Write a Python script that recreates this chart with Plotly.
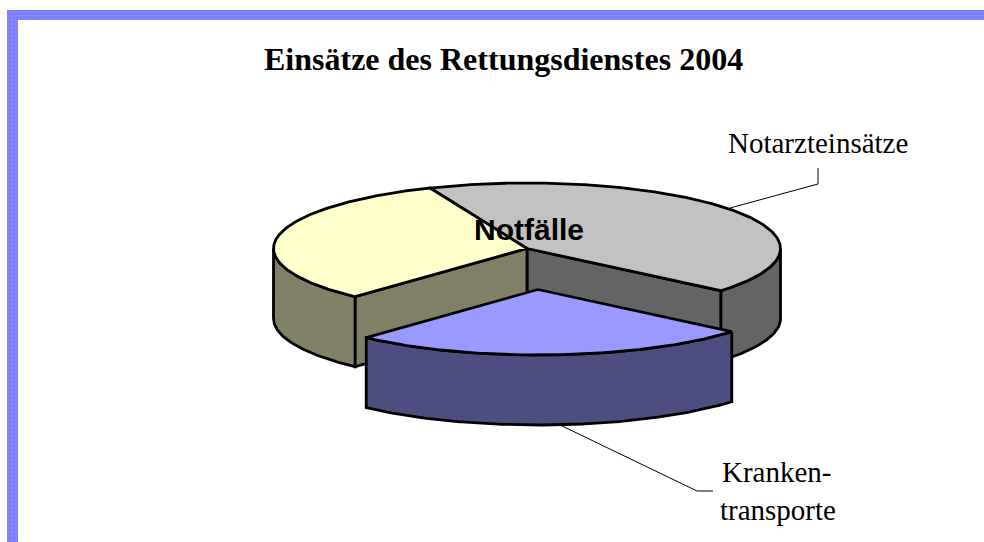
import numpy as np
import plotly.graph_objects as go

# ---- data ----
categories = ["Notarzteinsätze", "Krankentransporte", "Notfälle"]
shares = [42.4, 25.7, 31.9]
top_colors = ["#C4C4C4", "#9999FF", "#FFFFCC"]
side_colors = ["#636363", "#4D4D80", "#808066"]
title_text = "Einsätze des Rettungsdienstes 2004"

# ---- pie projection (pixel space of the 984x542 page) ----
CX, CY, RX, RY, DEPTH = 527.0, 248.5, 253.5, 65.5, 70.0
START = 112.5                      # angle of first slice edge, going clockwise
EXPLODE = {1: (11.0, 41.0)}        # slice index -> offset
LINE = dict(color="black", width=2.8)


def arc(a0, a1, ox=0.0, oy=0.0, dz=0.0):
    n = max(2, int(abs(a1 - a0) * 2))
    t = np.radians(np.linspace(a0, a1, n))
    return CX + ox + RX * np.cos(t), CY + oy + dz - RY * np.sin(t)


def poly(x, y, color, pattern=None, line=LINE):
    kw = dict(x=list(x) + [x[0]], y=list(y) + [y[0]], mode="lines", fill="toself",
              fillcolor=color, line=line, hoverinfo="skip", showlegend=False)
    if pattern:
        kw["fillpattern"] = pattern
    return go.Scatter(**kw)


def dots(bg, fg):
    return dict(shape=".", size=2, solidity=0.4, bgcolor=bg, fgcolor=fg, fillmode="replace")


def outer_wall(a0, a1, color, ox=0.0, oy=0.0, pattern=None):
    """a0 > a1, clockwise; only the front part of the rim (sin < 0)."""
    hi, lo = min(a0, 360.0), max(a1, 180.0)
    xt, yt = arc(hi, lo, ox, oy)
    xb, yb = arc(lo, hi, ox, oy, DEPTH)
    return poly(np.r_[xt, xb], np.r_[yt, yb], color, pattern)


def radial_wall(a, color, ox=0.0, oy=0.0, pattern=None):
    xe, ye = arc(a, a, ox, oy)
    px, py = CX + ox, CY + oy
    return poly([px, xe[0], xe[0], px], [py, ye[0], ye[0] + DEPTH, py + DEPTH], color, pattern)


def top(a0, a1, color, ox=0.0, oy=0.0, pattern=None):
    x, y = arc(a0, a1, ox, oy)
    return poly(np.r_[CX + ox, x], np.r_[CY + oy, y], color, pattern)


edges = START - np.cumsum([0.0] + [s / sum(shares) * 360.0 for s in shares])
fig = go.Figure()

# frame
FRAME = "#8080FF"
fpat = dict(shape=".", size=4, solidity=0.3, bgcolor="#8484FF", fgcolor="#7C7CFC", fillmode="replace")
nol = dict(color=FRAME, width=0)
fig.add_trace(poly([7, 984, 984, 7], [10, 10, 20, 20], FRAME, fpat, nol))
fig.add_trace(poly([7, 18, 18, 7], [10, 10, 542, 542], FRAME, fpat, nol))

# back slices: gray (0), yellow (2)
gray_side = dots("#6C6C6C", "#585858")
gray_top = dots("#C8C8C8", "#B8B8B8")
g0, g1 = edges[0], edges[1]
y0, y1 = edges[2] + 360.0, edges[3] + 360.0

fig.add_trace(outer_wall(360.0 + g0, 360.0 + g1, side_colors[0], pattern=gray_side))
fig.add_trace(outer_wall(y0, y1, side_colors[2]))
fig.add_trace(radial_wall(g1, side_colors[0], pattern=gray_side))
fig.add_trace(radial_wall(y0, side_colors[2]))
fig.add_trace(top(g0, g1, top_colors[0], pattern=gray_top))
fig.add_trace(top(y0, y1, top_colors[2]))

# exploded slice
ox, oy = EXPLODE[1]
fig.add_trace(outer_wall(edges[1] + 360.0, edges[2] + 360.0, side_colors[1], ox, oy))
fig.add_trace(top(edges[1], edges[2], top_colors[1], ox, oy))

# leader lines
leader = dict(color="black", width=1)
for lx, ly in (([730, 818, 818], [208, 184, 168]), ([558, 697, 713], [424, 491, 491])):
    fig.add_trace(go.Scatter(x=lx, y=ly, mode="lines", line=leader, hoverinfo="skip", showlegend=False))

SERIF = "Liberation Serif"
def label(x, y, text, size, family=SERIF, bold=False):
    fig.add_annotation(x=x, y=y, xref="x", yref="y", text=f"<b>{text}</b>" if bold else text,
                       showarrow=False, xanchor="center", yanchor="middle",
                       font=dict(family=family, size=size, color="black"))

label(503, 59, title_text, 32, bold=True)
label(817.5, 143, categories[0], 29)
label(777, 472, "Kranken-", 29)
label(777.5, 510, "transporte", 29)
label(528.5, 229, categories[2], 30, family="Liberation Sans", bold=True)

fig.update_layout(
    width=984, height=542, margin=dict(l=0, r=0, t=0, b=0),
    paper_bgcolor="white", plot_bgcolor="white", showlegend=False,
    xaxis=dict(range=[0, 984], visible=False, fixedrange=True),
    yaxis=dict(range=[542, 0], visible=False, fixedrange=True),
)
fig.write_html("out.html", config=dict(displayModeBar=False),
               post_script="document.body.style.margin='0';document.body.style.overflow='hidden';")
